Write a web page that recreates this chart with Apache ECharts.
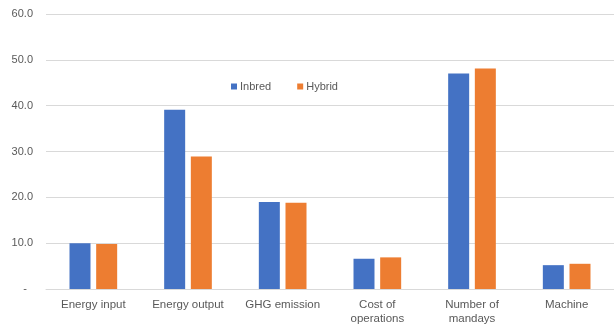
<!DOCTYPE html>
<html>
<head>
<meta charset="utf-8">
<script src="https://cdn.jsdelivr.net/npm/echarts@6/dist/echarts.min.js"></script>
<style>
  html, body { margin: 0; padding: 0; background: #fff; }
  #chart { width: 614px; height: 327px; }
</style>
</head>
<body>
<div id="chart"></div>
<script>
// Categories along the x axis
const categories = ['Energy input', 'Energy output', 'GHG emission', 'Cost of\noperations', 'Number of\nmandays', 'Machine'];
// Series values
const inbred = [10.0, 39.1, 19.0, 6.6, 47.0, 5.2];
const hybrid = [9.8, 28.9, 18.8, 6.9, 48.1, 5.5];
const seriesNames = ['Inbred', 'Hybrid'];
// Value axis range
const yMin = 0, yMax = 60, yStep = 10;

const textColor = '#595959';
const font = '"Liberation Sans", Arial, sans-serif';

const chart = echarts.init(document.getElementById('chart'), null, { renderer: 'canvas' });
chart.setOption({
  animation: false,
  textStyle: { fontFamily: font },
  legend: {
    data: seriesNames,
    left: 226,
    top: 76,
    itemWidth: 6,
    itemHeight: 6,
    itemGap: 26,
    icon: 'rect',
    textStyle: { color: textColor, fontSize: 11, fontFamily: font, padding: [0, 0, 0, -2] }
  },
  grid: { left: 46, top: 14, width: 569, bottom: 38, containLabel: false },
  xAxis: {
    type: 'category',
    data: categories,
    axisLine: { show: true, lineStyle: { color: '#d9d9d9', width: 1 } },
    axisTick: { show: false },
    axisLabel: { color: textColor, fontSize: 11.5, margin: 9, lineHeight: 14, interval: 0 }
  },
  yAxis: {
    type: 'value',
    min: yMin,
    max: yMax,
    interval: yStep,
    axisLine: { show: false },
    axisTick: { show: false },
    splitLine: { lineStyle: { color: '#d9d9d9', width: 1 } },
    axisLabel: {
      color: textColor,
      fontSize: 11,
      margin: 13,
      formatter: v => (v === 0 ? '-  ' : v.toFixed(1))
    }
  },
  series: [
    { name: seriesNames[0], type: 'bar', data: inbred, barWidth: 21, barGap: '27%',
      itemStyle: { color: '#4472C4' } },
    { name: seriesNames[1], type: 'bar', data: hybrid, barWidth: 21, barGap: '27%',
      itemStyle: { color: '#ED7D31' } }
  ]
});
</script>
</body>
</html>
